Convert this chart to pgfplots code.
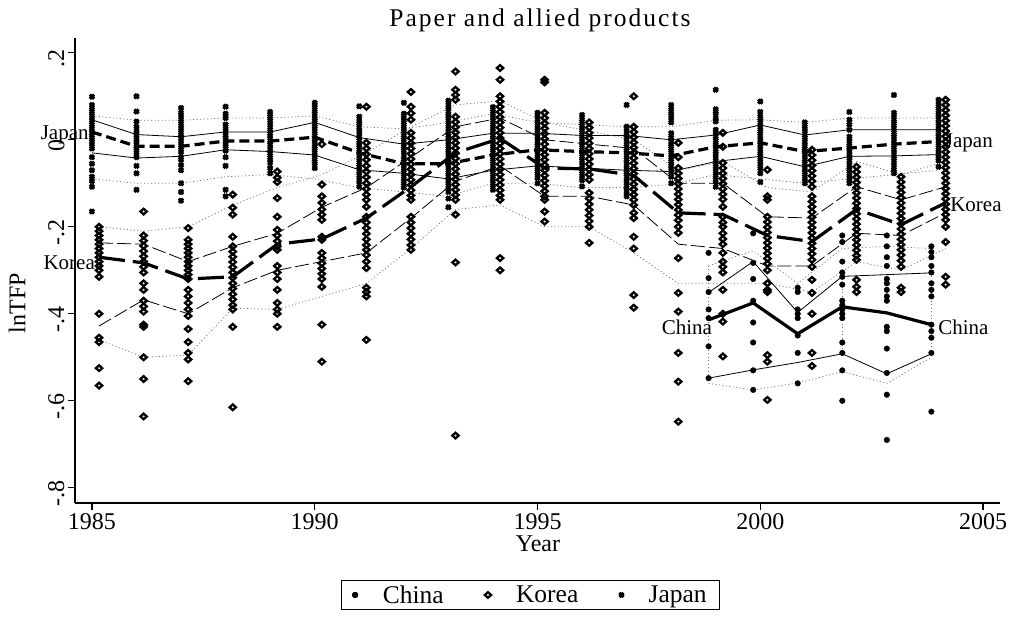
\documentclass[border=0pt]{standalone}
\usepackage{fontspec}
\setmainfont{Liberation Serif}
\usepackage{pgfplots}
\pgfplotsset{compat=1.18}

\pgfplotsset{
  meanline/.style={no marks, black, line width=3.2bp, forget plot},
  sdline/.style={no marks, black, line width=0.8bp, forget plot},
  outline/.style={no marks, black!55, line width=0.8bp, dash pattern=on 1bp off 2.5bp, forget plot},
}

\begin{document}
\begin{tikzpicture}
\path[use as bounding box] (0,0) rectangle (1017bp,622bp);
\begin{axis}[
  at={(75bp,119bp)}, anchor=south west,
  scale only axis, width=925bp, height=465bp,
  xmin=1984.62, xmax=2005.38, ymin=-0.835, ymax=0.234,
  axis lines=left, axis line style={-, line width=1.5bp},
  tick align=outside, major tick length=7bp,
  tick style={line width=1.2bp, black},
  xtick={1985,1990,1995,2000,2005},
  xticklabels={1985,1990,1995,2000,2005},
  ytick={-0.8,-0.6,-0.4,-0.2,0,0.2},
  yticklabels={-.8,-.6,-.4,-.2,0,.2},
  font=\fontsize{24bp}{28bp}\selectfont,
  yticklabel style={rotate=90, anchor=south, xshift=-6bp},
  clip=false,
  legend columns=3,
  legend style={at={(0.4924,-0.1656)}, anchor=north, draw=black, line width=0.8bp,
    font=\fontsize{25.5bp}{28bp}\selectfont, inner xsep=11bp, inner ysep=3bp,
    /tikz/every odd column/.append style={column sep=23bp},
    /tikz/every even column/.append style={column sep=39bp}},
]

% firm-level observations
\addplot[only marks, mark=*, mark size=2.8bp, black] coordinates {
(1998.84,-0.26)(1998.84,-0.318)(1998.84,-0.35)(1998.84,-0.39)(1998.84,-0.41)(1998.84,-0.475)(1998.84,-0.548)
(1999.84,-0.215)(1999.84,-0.283)(1999.84,-0.32)(1999.84,-0.37)(1999.84,-0.42)(1999.84,-0.466)(1999.84,-0.53)(1999.84,-0.575)
(2000.84,-0.34)(2000.84,-0.35)(2000.84,-0.39)(2000.84,-0.4)(2000.84,-0.41)(2000.84,-0.45)(2000.84,-0.49)(2000.84,-0.56)
(2001.84,-0.22)(2001.84,-0.235)(2001.84,-0.28)(2001.84,-0.305)(2001.84,-0.315)(2001.84,-0.333)(2001.84,-0.37)(2001.84,-0.38)(2001.84,-0.39)(2001.84,-0.4)(2001.84,-0.41)(2001.84,-0.466)(2001.84,-0.49)(2001.84,-0.53)(2001.84,-0.6)
(2002.84,-0.22)(2002.84,-0.245)(2002.84,-0.27)(2002.84,-0.29)(2002.84,-0.32)(2002.84,-0.33)(2002.84,-0.345)(2002.84,-0.36)(2002.84,-0.37)(2002.84,-0.43)(2002.84,-0.44)(2002.84,-0.48)(2002.84,-0.536)(2002.84,-0.586)(2002.84,-0.69)
(2003.84,-0.245)(2003.84,-0.258)(2003.84,-0.27)(2003.84,-0.29)(2003.84,-0.305)(2003.84,-0.33)(2003.84,-0.345)(2003.84,-0.36)(2003.84,-0.425)(2003.84,-0.44)(2003.84,-0.455)(2003.84,-0.49)(2003.84,-0.625)
};
\addlegendentry{China}

\addplot[only marks, mark=diamond, mark size=2.8bp, black, line width=2.3bp,
  mark options={xscale=1.5, line width=2.3bp}] coordinates {
(1985.16,-0.2)(1985.16,-0.21)(1985.16,-0.22)(1985.16,-0.23)(1985.16,-0.24)(1985.16,-0.25)(1985.16,-0.26)(1985.16,-0.27)(1985.16,-0.28)(1985.16,-0.29)(1985.16,-0.3)(1985.16,-0.315)(1985.16,-0.4)(1985.16,-0.455)(1985.16,-0.465)(1985.16,-0.525)(1985.16,-0.565)
(1986.16,-0.165)(1986.16,-0.22)(1986.16,-0.232)(1986.16,-0.244)(1986.16,-0.256)(1986.16,-0.268)(1986.16,-0.28)(1986.16,-0.292)(1986.16,-0.305)(1986.16,-0.33)(1986.16,-0.345)(1986.16,-0.37)(1986.16,-0.383)(1986.16,-0.395)(1986.16,-0.425)(1986.16,-0.43)(1986.16,-0.5)(1986.16,-0.55)(1986.16,-0.636)
(1987.16,-0.203)(1987.16,-0.23)(1987.16,-0.24)(1987.16,-0.25)(1987.16,-0.26)(1987.16,-0.27)(1987.16,-0.28)(1987.16,-0.29)(1987.16,-0.3)(1987.16,-0.31)(1987.16,-0.32)(1987.16,-0.345)(1987.16,-0.36)(1987.16,-0.375)(1987.16,-0.39)(1987.16,-0.405)(1987.16,-0.435)(1987.16,-0.465)(1987.16,-0.49)(1987.16,-0.505)(1987.16,-0.555)
(1988.16,-0.126)(1988.16,-0.156)(1988.16,-0.172)(1988.16,-0.223)(1988.16,-0.245)(1988.16,-0.257)(1988.16,-0.269)(1988.16,-0.281)(1988.16,-0.293)(1988.16,-0.305)(1988.16,-0.317)(1988.16,-0.33)(1988.16,-0.342)(1988.16,-0.355)(1988.16,-0.367)(1988.16,-0.38)(1988.16,-0.39)(1988.16,-0.43)(1988.16,-0.615)
(1989.16,-0.073)(1989.16,-0.087)(1989.16,-0.097)(1989.16,-0.134)(1989.16,-0.177)(1989.16,-0.207)(1989.16,-0.22)(1989.16,-0.233)(1989.16,-0.245)(1989.16,-0.253)(1989.16,-0.29)(1989.16,-0.305)(1989.16,-0.32)(1989.16,-0.345)(1989.16,-0.375)(1989.16,-0.39)(1989.16,-0.4)(1989.16,-0.43)
(1990.16,-0.01)(1990.16,-0.103)(1990.16,-0.13)(1990.16,-0.145)(1990.16,-0.16)(1990.16,-0.172)(1990.16,-0.184)(1990.16,-0.223)(1990.16,-0.23)(1990.16,-0.26)(1990.16,-0.272)(1990.16,-0.284)(1990.16,-0.296)(1990.16,-0.308)(1990.16,-0.32)(1990.16,-0.338)(1990.16,-0.425)(1990.16,-0.51)
(1991.16,0.076)(1991.16,-0.007)(1991.16,-0.02)(1991.16,-0.033)(1991.16,-0.046)(1991.16,-0.06)(1991.16,-0.073)(1991.16,-0.086)(1991.16,-0.1)(1991.16,-0.113)(1991.16,-0.126)(1991.16,-0.138)(1991.16,-0.154)(1991.16,-0.177)(1991.16,-0.19)(1991.16,-0.203)(1991.16,-0.216)(1991.16,-0.229)(1991.16,-0.242)(1991.16,-0.253)(1991.16,-0.265)(1991.16,-0.28)(1991.16,-0.295)(1991.16,-0.34)(1991.16,-0.35)(1991.16,-0.36)(1991.16,-0.46)
(1992.16,0.11)(1992.16,0.076)(1992.16,0.061)(1992.16,0.046)(1992.16,0.016)(1992.16,0.004)(1992.16,-0.008)(1992.16,-0.02)(1992.16,-0.032)(1992.16,-0.044)(1992.16,-0.056)(1992.16,-0.068)(1992.16,-0.08)(1992.16,-0.092)(1992.16,-0.104)(1992.16,-0.116)(1992.16,-0.128)(1992.16,-0.138)(1992.16,-0.177)(1992.16,-0.19)(1992.16,-0.203)(1992.16,-0.216)(1992.16,-0.229)(1992.16,-0.242)(1992.16,-0.253)
(1993.16,0.157)(1993.16,0.115)(1993.16,0.103)(1993.16,0.092)(1993.16,0.053)(1993.16,0.041)(1993.16,0.029)(1993.16,0.017)(1993.16,0.005)(1993.16,-0.007)(1993.16,-0.019)(1993.16,-0.031)(1993.16,-0.043)(1993.16,-0.055)(1993.16,-0.067)(1993.16,-0.079)(1993.16,-0.091)(1993.16,-0.103)(1993.16,-0.115)(1993.16,-0.127)(1993.16,-0.138)(1993.16,-0.172)(1993.16,-0.282)(1993.16,-0.68)
(1994.16,0.165)(1994.16,0.138)(1994.16,0.1)(1994.16,0.088)(1994.16,0.076)(1994.16,0.064)(1994.16,0.052)(1994.16,0.04)(1994.16,0.028)(1994.16,0.016)(1994.16,0.004)(1994.16,-0.008)(1994.16,-0.02)(1994.16,-0.032)(1994.16,-0.044)(1994.16,-0.056)(1994.16,-0.068)(1994.16,-0.08)(1994.16,-0.092)(1994.16,-0.104)(1994.16,-0.116)(1994.16,-0.128)(1994.16,-0.138)(1994.16,-0.272)(1994.16,-0.3)
(1995.16,0.138)(1995.16,0.132)(1995.16,0.062)(1995.16,0.05)(1995.16,0.038)(1995.16,0.026)(1995.16,0.014)(1995.16,0.002)(1995.16,-0.01)(1995.16,-0.022)(1995.16,-0.034)(1995.16,-0.046)(1995.16,-0.058)(1995.16,-0.07)(1995.16,-0.082)(1995.16,-0.094)(1995.16,-0.106)(1995.16,-0.118)(1995.16,-0.13)(1995.16,-0.138)(1995.16,-0.165)(1995.16,-0.188)
(1996.16,0.04)(1996.16,0.028)(1996.16,0.016)(1996.16,0.004)(1996.16,-0.008)(1996.16,-0.02)(1996.16,-0.032)(1996.16,-0.044)(1996.16,-0.056)(1996.16,-0.068)(1996.16,-0.08)(1996.16,-0.092)(1996.16,-0.122)(1996.16,-0.135)(1996.16,-0.148)(1996.16,-0.161)(1996.16,-0.174)(1996.16,-0.187)(1996.16,-0.2)(1996.16,-0.237)
(1997.16,0.1)(1997.16,0.03)(1997.16,0.018)(1997.16,0.006)(1997.16,-0.006)(1997.16,-0.018)(1997.16,-0.03)(1997.16,-0.042)(1997.16,-0.054)(1997.16,-0.066)(1997.16,-0.078)(1997.16,-0.09)(1997.16,-0.102)(1997.16,-0.114)(1997.16,-0.126)(1997.16,-0.138)(1997.16,-0.15)(1997.16,-0.168)(1997.16,-0.18)(1997.16,-0.223)(1997.16,-0.25)(1997.16,-0.357)(1997.16,-0.386)
(1998.16,-0.007)(1998.16,-0.04)(1998.16,-0.065)(1998.16,-0.077)(1998.16,-0.089)(1998.16,-0.101)(1998.16,-0.113)(1998.16,-0.125)(1998.16,-0.137)(1998.16,-0.149)(1998.16,-0.161)(1998.16,-0.173)(1998.16,-0.185)(1998.16,-0.2)(1998.16,-0.214)(1998.16,-0.272)(1998.16,-0.352)(1998.16,-0.395)(1998.16,-0.49)(1998.16,-0.556)(1998.16,-0.648)
(1999.16,0.016)(1999.16,-0.016)(1999.16,-0.053)(1999.16,-0.065)(1999.16,-0.077)(1999.16,-0.089)(1999.16,-0.101)(1999.16,-0.113)(1999.16,-0.125)(1999.16,-0.137)(1999.16,-0.154)(1999.16,-0.177)(1999.16,-0.19)(1999.16,-0.2)(1999.16,-0.215)(1999.16,-0.228)(1999.16,-0.24)(1999.16,-0.26)(1999.16,-0.28)(1999.16,-0.292)(1999.16,-0.305)(1999.16,-0.345)(1999.16,-0.4)(1999.16,-0.418)(1999.16,-0.498)
(2000.16,-0.069)(2000.16,-0.13)(2000.16,-0.138)(2000.16,-0.177)(2000.16,-0.189)(2000.16,-0.201)(2000.16,-0.213)(2000.16,-0.225)(2000.16,-0.237)(2000.16,-0.249)(2000.16,-0.261)(2000.16,-0.273)(2000.16,-0.285)(2000.16,-0.3)(2000.16,-0.33)(2000.16,-0.345)(2000.16,-0.35)(2000.16,-0.495)(2000.16,-0.51)(2000.16,-0.598)
(2001.16,-0.023)(2001.16,-0.035)(2001.16,-0.047)(2001.16,-0.059)(2001.16,-0.071)(2001.16,-0.083)(2001.16,-0.095)(2001.16,-0.108)(2001.16,-0.13)(2001.16,-0.142)(2001.16,-0.154)(2001.16,-0.166)(2001.16,-0.178)(2001.16,-0.19)(2001.16,-0.202)(2001.16,-0.214)(2001.16,-0.226)(2001.16,-0.238)(2001.16,-0.25)(2001.16,-0.262)(2001.16,-0.276)(2001.16,-0.292)(2001.16,-0.322)(2001.16,-0.352)(2001.16,-0.4)(2001.16,-0.49)(2001.16,-0.52)
(2002.16,-0.062)(2002.16,-0.074)(2002.16,-0.086)(2002.16,-0.098)(2002.16,-0.11)(2002.16,-0.122)(2002.16,-0.134)(2002.16,-0.146)(2002.16,-0.158)(2002.16,-0.17)(2002.16,-0.182)(2002.16,-0.194)(2002.16,-0.206)(2002.16,-0.218)(2002.16,-0.23)(2002.16,-0.242)(2002.16,-0.254)(2002.16,-0.266)(2002.16,-0.276)(2002.16,-0.322)(2002.16,-0.338)(2002.16,-0.35)
(2003.16,-0.085)(2003.16,-0.097)(2003.16,-0.109)(2003.16,-0.121)(2003.16,-0.133)(2003.16,-0.145)(2003.16,-0.157)(2003.16,-0.169)(2003.16,-0.181)(2003.16,-0.193)(2003.16,-0.205)(2003.16,-0.217)(2003.16,-0.229)(2003.16,-0.241)(2003.16,-0.253)(2003.16,-0.265)(2003.16,-0.278)(2003.16,-0.292)(2003.16,-0.34)(2003.16,-0.35)
(2004.16,0.092)(2004.16,0.08)(2004.16,0.068)(2004.16,0.056)(2004.16,0.044)(2004.16,0.032)(2004.16,0.02)(2004.16,0.008)(2004.16,-0.004)(2004.16,-0.016)(2004.16,-0.028)(2004.16,-0.04)(2004.16,-0.052)(2004.16,-0.064)(2004.16,-0.076)(2004.16,-0.088)(2004.16,-0.1)(2004.16,-0.112)(2004.16,-0.124)(2004.16,-0.136)(2004.16,-0.148)(2004.16,-0.16)(2004.16,-0.172)(2004.16,-0.184)(2004.16,-0.2)(2004.16,-0.235)(2004.16,-0.315)(2004.16,-0.333)
};
\addlegendentry{Korea}

\addplot[only marks, mark=x, mark size=3bp, black, line width=3bp, mark options={line width=3bp}] coordinates {
(1985,0.099)(1985,0.08)(1985,0.07)(1985,0.06)(1985,0.05)(1985,0.04)(1985,0.03)(1985,0.02)(1985,0.01)(1985,0)(1985,-0.01)(1985,-0.02)(1985,-0.04)(1985,-0.055)(1985,-0.07)(1985,-0.085)(1985,-0.095)(1985,-0.108)(1985,-0.165)
(1986,0.1)(1986,0.065)(1986,0.042)(1986,0.03)(1986,0.02)(1986,0.01)(1986,0)(1986,-0.01)(1986,-0.02)(1986,-0.03)(1986,-0.04)(1986,-0.06)(1986,-0.077)(1986,-0.115)
(1987,0.073)(1987,0.062)(1987,0.052)(1987,0.042)(1987,0.032)(1987,0.022)(1987,0.012)(1987,0.002)(1987,-0.008)(1987,-0.018)(1987,-0.028)(1987,-0.04)(1987,-0.046)(1987,-0.058)(1987,-0.07)(1987,-0.1)(1987,-0.12)(1987,-0.14)
(1988,0.076)(1988,0.06)(1988,0.05)(1988,0.035)(1988,0.025)(1988,0.015)(1988,0.005)(1988,-0.005)(1988,-0.015)(1988,-0.025)(1988,-0.04)(1988,-0.06)(1988,-0.115)(1988,-0.13)
(1989,0.064)(1989,0.054)(1989,0.044)(1989,0.034)(1989,0.024)(1989,0.014)(1989,0.004)(1989,-0.006)(1989,-0.016)(1989,-0.026)(1989,-0.036)(1989,-0.046)(1989,-0.053)(1989,-0.065)(1989,-0.077)
(1990,0.085)(1990,0.075)(1990,0.065)(1990,0.055)(1990,0.045)(1990,0.035)(1990,0.025)(1990,0.015)(1990,0.005)(1990,-0.005)(1990,-0.015)(1990,-0.025)(1990,-0.035)(1990,-0.045)(1990,-0.055)(1990,-0.065)
(1991,0.077)(1991,0.053)(1991,0.043)(1991,0.033)(1991,0.023)(1991,0.013)(1991,0.003)(1991,-0.007)(1991,-0.017)(1991,-0.027)(1991,-0.037)(1991,-0.047)(1991,-0.057)(1991,-0.067)(1991,-0.077)(1991,-0.087)(1991,-0.097)(1991,-0.108)
(1992,0.085)(1992,0.06)(1992,0.05)(1992,0.04)(1992,0.03)(1992,0.02)(1992,0.01)(1992,0)(1992,-0.01)(1992,-0.02)(1992,-0.03)(1992,-0.04)(1992,-0.05)(1992,-0.06)(1992,-0.07)(1992,-0.08)(1992,-0.09)(1992,-0.1)(1992,-0.11)
(1993,0.09)(1993,0.08)(1993,0.07)(1993,0.06)(1993,0.05)(1993,0.04)(1993,0.03)(1993,0.02)(1993,0.01)(1993,0)(1993,-0.01)(1993,-0.02)(1993,-0.03)(1993,-0.04)(1993,-0.05)(1993,-0.06)(1993,-0.07)(1993,-0.08)(1993,-0.09)(1993,-0.1)(1993,-0.11)(1993,-0.12)(1993,-0.135)(1993,-0.155)
(1994,0.075)(1994,0.065)(1994,0.055)(1994,0.045)(1994,0.035)(1994,0.025)(1994,0.015)(1994,0.005)(1994,-0.005)(1994,-0.015)(1994,-0.025)(1994,-0.035)(1994,-0.045)(1994,-0.055)(1994,-0.065)(1994,-0.075)(1994,-0.085)(1994,-0.095)(1994,-0.105)(1994,-0.115)
(1995,0.062)(1995,0.052)(1995,0.042)(1995,0.032)(1995,0.022)(1995,0.012)(1995,0.002)(1995,-0.008)(1995,-0.018)(1995,-0.028)(1995,-0.038)(1995,-0.048)(1995,-0.058)(1995,-0.068)(1995,-0.078)(1995,-0.088)(1995,-0.1)
(1996,0.057)(1996,0.047)(1996,0.037)(1996,0.027)(1996,0.017)(1996,0.007)(1996,-0.003)(1996,-0.013)(1996,-0.023)(1996,-0.033)(1996,-0.043)(1996,-0.053)(1996,-0.063)(1996,-0.073)(1996,-0.083)(1996,-0.093)(1996,-0.107)
(1997,0.08)(1997,0.03)(1997,0.02)(1997,0.01)(1997,0)(1997,-0.01)(1997,-0.02)(1997,-0.03)(1997,-0.04)(1997,-0.05)(1997,-0.06)(1997,-0.07)(1997,-0.08)(1997,-0.09)(1997,-0.1)(1997,-0.11)(1997,-0.12)(1997,-0.13)
(1998,0.08)(1998,0.07)(1998,0.06)(1998,0.05)(1998,0.04)(1998,0.015)(1998,0.005)(1998,-0.005)(1998,-0.015)(1998,-0.025)(1998,-0.035)(1998,-0.045)(1998,-0.055)(1998,-0.065)(1998,-0.075)(1998,-0.085)(1998,-0.1)
(1999,0.115)(1999,0.07)(1999,0.06)(1999,0.05)(1999,0.042)(1999,0.023)(1999,0.013)(1999,0.003)(1999,-0.007)(1999,-0.017)(1999,-0.027)(1999,-0.037)(1999,-0.047)(1999,-0.057)(1999,-0.067)(1999,-0.077)(1999,-0.087)(1999,-0.097)(1999,-0.108)
(2000,0.088)(2000,0.064)(2000,0.054)(2000,0.044)(2000,0.034)(2000,0.024)(2000,0.014)(2000,0.004)(2000,-0.006)(2000,-0.016)(2000,-0.026)(2000,-0.036)(2000,-0.046)(2000,-0.056)(2000,-0.066)(2000,-0.077)(2000,-0.097)
(2001,0.04)(2001,0.03)(2001,0.02)(2001,0.01)(2001,0)(2001,-0.01)(2001,-0.02)(2001,-0.03)(2001,-0.04)(2001,-0.05)(2001,-0.06)(2001,-0.07)(2001,-0.08)(2001,-0.09)(2001,-0.1)
(2002,0.064)(2002,0.046)(2002,0.035)(2002,0.023)(2002,0.007)(2002,-0.003)(2002,-0.013)(2002,-0.023)(2002,-0.033)(2002,-0.043)(2002,-0.053)(2002,-0.063)(2002,-0.073)(2002,-0.083)(2002,-0.093)(2002,-0.1)
(2003,0.103)(2003,0.062)(2003,0.052)(2003,0.042)(2003,0.032)(2003,0.022)(2003,0.012)(2003,0.002)(2003,-0.008)(2003,-0.018)(2003,-0.028)(2003,-0.038)(2003,-0.048)(2003,-0.058)(2003,-0.068)(2003,-0.077)
(2004,0.092)(2004,0.082)(2004,0.072)(2004,0.062)(2004,0.052)(2004,0.042)(2004,0.032)(2004,0.022)(2004,0.012)(2004,0.002)(2004,-0.008)(2004,-0.018)(2004,-0.028)(2004,-0.038)(2004,-0.048)(2004,-0.062)
};
\addlegendentry{Japan}

% Japan: outer bands, +/- one s.d., mean
\addplot[outline] coordinates {(1985,0.055)(1986,0.045)(1987,0.045)(1988,0.05)(1989,0.05)(1990,0.055)(1991,0.03)(1992,0.025)(1993,0.04)(1994,0.06)(1995,0.04)(1996,0.035)(1997,0.03)(1998,0.03)(1999,0.045)(2000,0.046)(2001,0.04)(2002,0.05)(2003,0.05)(2004,0.05)};
\addplot[outline] coordinates {(1985,-0.09)(1986,-0.1)(1987,-0.1)(1988,-0.085)(1989,-0.08)(1990,-0.09)(1991,-0.11)(1992,-0.12)(1993,-0.13)(1994,-0.1)(1995,-0.1)(1996,-0.11)(1997,-0.11)(1998,-0.103)(1999,-0.08)(2000,-0.09)(2001,-0.1)(2002,-0.09)(2003,-0.08)(2004,-0.07)};
\addplot[sdline] coordinates {(1985,0.046)(1986,0.012)(1987,0.007)(1988,0.018)(1989,0.018)(1990,0.04)(1991,0.005)(1992,-0.01)(1993,0)(1994,0.015)(1995,0.015)(1996,0.01)(1997,0.01)(1998,0)(1999,0.011)(2000,0.034)(2001,0.011)(2002,0.023)(2003,0.023)(2004,0.023)};
\addplot[sdline] coordinates {(1985,-0.03)(1986,-0.042)(1987,-0.038)(1988,-0.023)(1989,-0.027)(1990,-0.035)(1991,-0.069)(1992,-0.077)(1993,-0.09)(1994,-0.07)(1995,-0.06)(1996,-0.065)(1997,-0.07)(1998,-0.073)(1999,-0.05)(2000,-0.038)(2001,-0.062)(2002,-0.038)(2003,-0.037)(2004,-0.034)};
\addplot[meanline, dash pattern=on 10bp off 5bp] coordinates {(1985,0.018)(1986,-0.015)(1987,-0.015)(1988,-0.003)(1989,-0.003)(1990,0.006)(1991,-0.03)(1992,-0.055)(1993,-0.055)(1994,-0.035)(1995,-0.023)(1996,-0.027)(1997,-0.03)(1998,-0.037)(1999,-0.016)(2000,-0.007)(2001,-0.027)(2002,-0.019)(2003,-0.01)(2004,-0.004)};

% Korea
\addplot[outline] coordinates {(1985.16,-0.2)(1986.16,-0.21)(1987.16,-0.2)(1988.16,-0.15)(1989.16,-0.11)(1990.16,-0.08)(1991.16,-0.03)(1992.16,0.03)(1993.16,0.08)(1994.16,0.09)(1995.16,0.04)(1996.16,0.02)(1997.16,0)(1998.16,-0.07)(1999.16,-0.05)(2000.16,-0.11)(2001.16,-0.12)(2002.16,-0.05)(2003.16,-0.08)(2004.16,-0.05)};
\addplot[outline] coordinates {(1985.16,-0.46)(1986.16,-0.5)(1987.16,-0.495)(1988.16,-0.387)(1989.16,-0.39)(1990.16,-0.36)(1991.16,-0.33)(1992.16,-0.25)(1993.16,-0.16)(1994.16,-0.15)(1995.16,-0.2)(1996.16,-0.2)(1997.16,-0.26)(1998.16,-0.33)(1999.16,-0.33)(2000.16,-0.33)(2001.16,-0.35)(2002.16,-0.28)(2003.16,-0.3)(2004.16,-0.25)};
\addplot[sdline, dash pattern=on 14bp off 4bp] coordinates {(1985.16,-0.237)(1986.16,-0.24)(1987.16,-0.28)(1988.16,-0.245)(1989.16,-0.215)(1990.16,-0.155)(1991.16,-0.11)(1992.16,-0.04)(1993.16,0.03)(1994.16,0.05)(1995.16,0)(1996.16,-0.01)(1997.16,-0.02)(1998.16,-0.1)(1999.16,-0.1)(2000.16,-0.177)(2001.16,-0.18)(2002.16,-0.108)(2003.16,-0.138)(2004.16,-0.108)};
\addplot[sdline, dash pattern=on 14bp off 4bp] coordinates {(1985.16,-0.428)(1986.16,-0.368)(1987.16,-0.4)(1988.16,-0.34)(1989.16,-0.3)(1990.16,-0.28)(1991.16,-0.26)(1992.16,-0.18)(1993.16,-0.095)(1994.16,-0.06)(1995.16,-0.13)(1996.16,-0.13)(1997.16,-0.15)(1998.16,-0.24)(1999.16,-0.25)(2000.16,-0.29)(2001.16,-0.29)(2002.16,-0.215)(2003.16,-0.22)(2004.16,-0.168)};
\addplot[meanline, dash pattern=on 26bp off 8bp] coordinates {(1985.16,-0.27)(1986.16,-0.283)(1987.16,-0.32)(1988.16,-0.315)(1989.16,-0.24)(1990.16,-0.228)(1991.16,-0.18)(1992.16,-0.108)(1993.16,-0.03)(1994.16,0.003)(1995.16,-0.065)(1996.16,-0.067)(1997.16,-0.082)(1998.16,-0.168)(1999.16,-0.172)(2000.16,-0.22)(2001.16,-0.234)(2002.16,-0.16)(2003.16,-0.195)(2004.16,-0.145)};

% China
\addplot[outline] coordinates {(1998.84,-0.29)(1999.84,-0.255)(2000.84,-0.33)(2001.84,-0.25)(2002.84,-0.245)(2003.84,-0.25)};
\addplot[outline] coordinates {(1998.84,-0.56)(1999.84,-0.575)(2000.84,-0.559)(2001.84,-0.533)(2002.84,-0.56)(2003.84,-0.5)};
\addplot[outline] coordinates {(1998.84,-0.29)(1998.84,-0.548)};
\addplot[outline] coordinates {(2001.84,-0.31)(2001.84,-0.49)};
\addplot[outline] coordinates {(2003.84,-0.306)(2003.84,-0.492)};
\addplot[sdline] coordinates {(1998.84,-0.351)(1999.84,-0.28)(2000.84,-0.397)(2001.84,-0.314)(2002.84,-0.31)(2003.84,-0.306)};
\addplot[sdline] coordinates {(1998.84,-0.548)(1999.84,-0.529)(2000.84,-0.512)(2001.84,-0.492)(2002.84,-0.538)(2003.84,-0.492)};
\addplot[meanline] coordinates {(1998.84,-0.414)(1999.84,-0.375)(2000.84,-0.446)(2001.84,-0.384)(2002.84,-0.398)(2003.84,-0.425)};

% series labels
\begin{scope}[every node/.style={font=\fontsize{21bp}{24bp}\selectfont, inner sep=0pt}]
\node[anchor=east] at (axis cs:1984.93,0.011) {Japan};
\node[anchor=east] at (axis cs:1985.07,-0.283) {Korea};
\node[anchor=east] at (axis cs:1998.92,-0.43) {China};
\node[anchor=west] at (axis cs:2004.14,-0.007) {Japan};
\node[anchor=west] at (axis cs:2004.26,-0.15) {Korea};
\node[anchor=west] at (axis cs:2003.99,-0.432) {China};
\end{scope}

% title and axis titles
\node[font=\fontsize{25.5bp}{28bp}\selectfont\addfontfeatures{LetterSpace=8}] at (rel axis cs:0.5027,1.0387) {Paper and allied products};
\node[rotate=90] at (rel axis cs:-0.0627,0.43) {lnTFP};
\node at (rel axis cs:0.5005,-0.088) {Year};
\end{axis}
\end{tikzpicture}
\end{document}
